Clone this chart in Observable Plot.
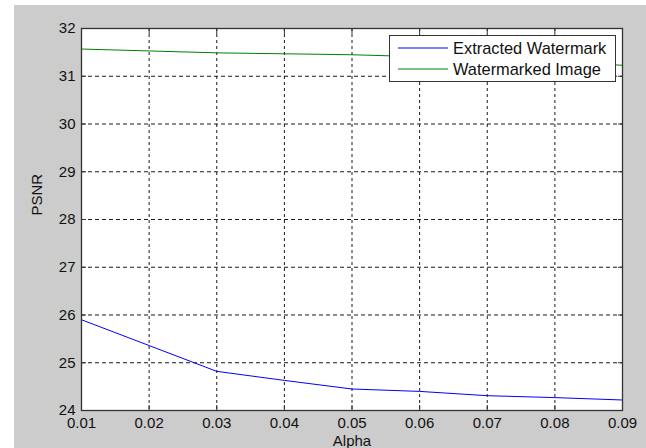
<!DOCTYPE html>
<html><head><meta charset="utf-8">
<script src="https://cdn.jsdelivr.net/npm/d3@7"></script>
<script src="https://cdn.jsdelivr.net/npm/@observablehq/plot@0.6"></script>
<style>
body{margin:0;background:#fff;}
#wrap{position:relative;width:646px;height:448px;overflow:hidden;font-family:"Liberation Sans",Arial,sans-serif;}
#bg{position:absolute;left:14px;top:5px;width:632px;height:443px;background:#cccccc;}
#chart{position:absolute;left:0;top:0;}
#legend{position:absolute;left:389px;top:35px;width:225px;height:45px;border:1px solid #333;background:#fff;}
</style></head><body>
<div id="wrap"><div id="bg"></div><div id="chart"></div><div id="legend"></div></div>
<script>
const alpha = [0.01, 0.02, 0.03, 0.04, 0.05, 0.06, 0.07, 0.08, 0.09];
const extracted = [25.90, 25.36, 24.82, 24.63, 24.45, 24.40, 24.31, 24.27, 24.22];
const watermarked = [31.57, 31.53, 31.49, 31.47, 31.45, 31.41, 31.36, 31.30, 31.23];
const xTicks = [0.01, 0.02, 0.03, 0.04, 0.05, 0.06, 0.07, 0.08, 0.09];
const yTicks = [24, 25, 26, 27, 28, 29, 30, 31, 32];
const seriesNames = ["Extracted Watermark", "Watermarked Image"];
const seriesColors = ["#0000ff", "#008000"];
const xLabel = "Alpha";
const yLabel = "PSNR";

const rows = [];
alpha.forEach((a, i) => {
  rows.push({alpha: a, psnr: extracted[i], series: seriesNames[0]});
  rows.push({alpha: a, psnr: watermarked[i], series: seriesNames[1]});
});

const fmt = d3.format(".2f");
const chart = Plot.plot({
  width: 646, height: 448,
  marginLeft: 81, marginRight: 24, marginTop: 28, marginBottom: 38,
  style: {background: "transparent", fontFamily: "'Liberation Sans', Arial, sans-serif", fontSize: "15px", color: "#111", overflow: "visible"},
  x: {domain: [0.01, 0.09]},
  y: {domain: [24, 32]},
  color: {domain: seriesNames, range: seriesColors},
  marks: [
    Plot.frame({fill: "white"}),
    Plot.gridX(xTicks, {stroke: "#000", strokeOpacity: 0.9, strokeDasharray: "3,3"}),
    Plot.gridY(yTicks, {stroke: "#000", strokeOpacity: 0.9, strokeDasharray: "4,3"}),
    Plot.line(rows, {x: "alpha", y: "psnr", z: "series", stroke: "series", strokeWidth: 1}),
    Plot.frame({stroke: "#333", strokeWidth: 1.3}),
    Plot.axisX({ticks: xTicks, tickFormat: fmt, tickSize: -5, tickPadding: 12, stroke: "#333", label: null, fontSize: 15}),
    Plot.axisX({anchor: "top", ticks: xTicks, tickFormat: () => "", tickSize: -5, stroke: "#333", label: null}),
    Plot.axisY({ticks: yTicks, tickFormat: d => String(d), tickSize: -5, tickPadding: 11, stroke: "#333", label: null, fontSize: 15}),
    Plot.axisY({anchor: "right", ticks: yTicks, tickFormat: () => "", tickSize: -5, stroke: "#333", label: null}),
    Plot.text([xLabel], {frameAnchor: "bottom", dy: 35, fontSize: 15, fill: "#111"}),
    Plot.text([yLabel], {frameAnchor: "left", dx: -44, dy: -4, rotate: -90, fontSize: 15, fill: "#111"})
  ]
});
document.getElementById("chart").appendChild(chart);

const lg = d3.select("#legend").append("svg").attr("width", 225).attr("height", 45)
  .style("font-family", "'Liberation Sans', Arial, sans-serif");
seriesNames.forEach((n, i) => {
  const y = 12 + i * 21;
  lg.append("line").attr("x1", 8).attr("x2", 58).attr("y1", y).attr("y2", y)
    .attr("stroke", seriesColors[i]).attr("stroke-width", 1);
  lg.append("text").attr("x", 63).attr("y", y).attr("dy", "0.35em")
    .attr("font-size", 16.4).attr("fill", "#111").text(n);
});
</script>
</body></html>
